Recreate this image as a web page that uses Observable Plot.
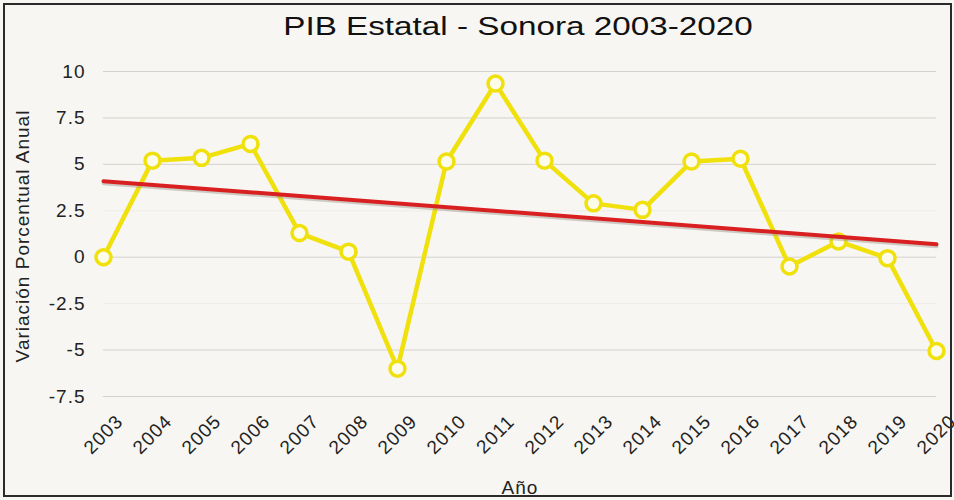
<!DOCTYPE html>
<html>
<head>
<meta charset="utf-8">
<script src="https://cdn.jsdelivr.net/npm/d3@7"></script>
<script src="https://cdn.jsdelivr.net/npm/@observablehq/plot@0.6"></script>
<style>
  html, body { margin: 0; padding: 0; background: #f7f6f2; }
  #wrap { position: relative; width: 954px; height: 500px; overflow: hidden; font-family: "Liberation Sans", Arial, sans-serif; }
  #frame { position: absolute; left: 3px; top: 3px; width: 945px; height: 490px; border: 2px solid #2a2a2a; pointer-events: none; }
  #title { position: absolute; left: 100px; width: 836px; top: 10px; text-align: center; font-size: 25px; color: #111; line-height: 32px; transform: scaleX(1.33); transform-origin: 50% 50%; }
  #chart { position: absolute; left: 0; top: 0; }
  #chart svg text { letter-spacing: 1px; }
</style>
</head>
<body>
<div id="wrap">
  <div id="chart"></div>
  <div id="title">PIB Estatal - Sonora 2003-2020</div>
  <div id="frame"></div>
</div>
<script>
const years = [2003, 2004, 2005, 2006, 2007, 2008, 2009, 2010, 2011, 2012, 2013, 2014, 2015, 2016, 2017, 2018, 2019, 2020];
const growth = [0, 5.2, 5.35, 6.1, 1.3, 0.3, -6.0, 5.15, 9.35, 5.2, 2.9, 2.55, 5.15, 5.3, -0.5, 0.85, -0.05, -5.05];
const yTicks = [10, 7.5, 5, 2.5, 0, -2.5, -5, -7.5];
const faintTicks = [2.5, -2.5];
const yLabel = "Variación Porcentual Anual";
const xLabel = "Año";

const data = years.map((y, i) => ({year: y, value: growth[i]}));

const chart = Plot.plot({
  width: 954,
  height: 500,
  marginLeft: 103,
  marginRight: 18,
  marginTop: 71,
  marginBottom: 104,
  style: {background: "transparent", fontFamily: "Liberation Sans, Arial, sans-serif", fontSize: "19px", color: "#222"},
  x: {type: "linear", domain: [2003, 2020], axis: null},
  y: {domain: [-7.5, 10], ticks: yTicks, tickSize: 0, tickPadding: 18, tickFormat: d => String(d), label: null},
  marks: [
    Plot.ruleY(yTicks, {stroke: d => faintTicks.includes(d) ? "#efece8" : "#d6d1cc", strokeWidth: 1}),
    Plot.line(data, {x: "year", y: "value", stroke: "#f0e00c", strokeWidth: 4.5}),
    Plot.dot(data, {x: "year", y: "value", r: 7.5, stroke: "#f0e00c", strokeWidth: 3.5, fill: "#fdfbea"}),
    Plot.linearRegressionY(data, {x: "year", y: "value", stroke: "#9a928a", strokeOpacity: 0.45, strokeWidth: 4, ci: 0, dy: 2}),
    Plot.linearRegressionY(data, {x: "year", y: "value", stroke: "#d92020", strokeWidth: 4, ci: 0}),
    Plot.text(years, {x: d => d, frameAnchor: "bottom", dy: 38, rotate: -45, textAnchor: "middle", lineAnchor: "middle", text: d => String(d), fontSize: 19, fill: "#222"}),
    Plot.text([xLabel], {frameAnchor: "bottom", dy: 91, textAnchor: "middle", lineAnchor: "middle", fontSize: 19, fill: "#222"}),
    Plot.text([yLabel], {frameAnchor: "left", dx: -81, dy: 2, rotate: -90, textAnchor: "middle", lineAnchor: "middle", fontSize: 19, fill: "#222"})
  ]
});
document.getElementById("chart").appendChild(chart);
</script>
</body>
</html>
